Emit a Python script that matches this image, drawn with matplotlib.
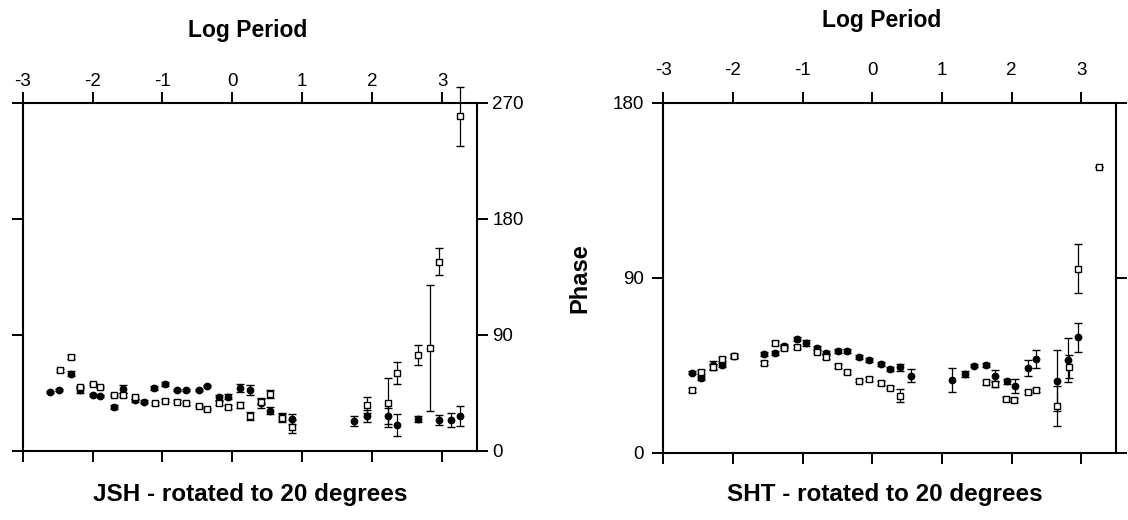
import matplotlib
matplotlib.use("Agg")
import matplotlib.pyplot as plt

plt.rcParams['font.family'] = ['Liberation Sans', 'DejaVu Sans']

# ---------------- JSH (left panel) ----------------
jsh_filled_x = [-2.61, -2.48, -2.31, -2.18, -2.00, -1.89, -1.70, -1.57, -1.40, -1.27,
                -1.12, -0.96, -0.79, -0.67, -0.48, -0.36, -0.19, -0.06, 0.11, 0.25,
                0.41, 0.54, 0.71, 0.85, 1.74, 1.93, 2.22, 2.35, 2.65, 2.95, 3.13, 3.25]
jsh_filled_y = [45.4, 47.2, 59.7, 47.0, 43.3, 42.5, 34.2, 47.7, 39.0, 38.1,
                48.5, 51.6, 47.2, 47.2, 47.2, 50.3, 41.5, 42.0, 48.5, 47.2,
                36.8, 31.1, 26.5, 24.4, 23.0, 26.9, 26.9, 19.9, 24.6, 23.8, 23.8, 26.9]
jsh_filled_err = [1, 1, 2, 2.5, 1, 1, 1.5, 3, 1, 1,
                  1.5, 1.5, 1, 1, 1, 1, 2, 2, 3, 4,
                  4, 2.5, 3, 4, 3.9, 4.7, 6, 8.8, 2, 4, 5.5, 8]

jsh_open_x = [-2.47, -2.31, -2.18, -2.00, -1.89, -1.70, -1.57, -1.40, -1.11, -0.97,
              -0.79, -0.67, -0.48, -0.36, -0.19, -0.06, 0.11, 0.25, 0.41, 0.54,
              0.71, 0.85, 1.93, 2.22, 2.35, 2.65, 2.83, 2.95, 3.26]
jsh_open_y = [62.3, 72.4, 49.3, 51.9, 49.3, 43.3, 43.3, 41.5, 36.8, 38.9,
              38.1, 36.8, 34.8, 32.4, 36.8, 34.2, 35.5, 27.0, 38.0, 44.1,
              25.2, 18.7, 35.5, 37.3, 60.5, 74.3, 79.9, 146.7, 259.4]
jsh_open_err = [1, 1.5, 1, 1, 1, 1, 1.5, 1, 1, 1,
                1, 1, 1, 1, 1.5, 1.5, 2, 3, 2, 3,
                3, 5, 6.5, 19, 8.5, 7.6, 49, 10.7, 23]

# ---------------- SHT (right panel) ----------------
sht_filled_x = [-2.59, -2.46, -2.28, -2.15, -1.99, -1.56, -1.39, -1.26, -1.08, -0.95,
                -0.79, -0.66, -0.49, -0.36, -0.19, -0.05, 0.12, 0.25, 0.40, 0.55,
                1.15, 1.33, 1.46, 1.64, 1.76, 1.93, 2.05, 2.23, 2.35, 2.65, 2.81, 2.95]
sht_filled_y = [41.2, 38.3, 45.2, 45.2, 49.5, 50.8, 51.2, 55.0, 58.6, 56.3,
                53.8, 51.5, 52.4, 52.4, 49.1, 47.7, 45.5, 42.9, 43.8, 39.5,
                37.4, 40.4, 44.8, 45.0, 39.5, 36.6, 34.4, 43.5, 48.1, 37.1, 47.7, 59.4]
sht_filled_err = [1, 1, 2, 1, 1, 1, 1, 1, 1, 1.5,
                  1, 1, 1, 1, 1, 1, 1, 1, 2, 3.3,
                  6, 1.5, 1, 1, 3, 1.5, 3.5, 3.9, 4.7, 15.8, 11.5, 7.5]

sht_open_x = [-2.59, -2.46, -2.28, -2.15, -1.99, -1.56, -1.39, -1.26, -1.08, -0.79,
              -0.66, -0.49, -0.36, -0.19, -0.05, 0.12, 0.25, 0.40, 1.63, 1.76,
              1.92, 2.04, 2.23, 2.35, 2.65, 2.82, 2.96, 3.26]
sht_open_y = [32.3, 41.7, 44.0, 48.1, 49.5, 46.0, 56.3, 53.8, 54.3, 52.0,
              49.0, 44.7, 41.7, 37.1, 38.0, 35.7, 33.5, 29.4, 36.1, 35.4,
              27.5, 27.1, 31.1, 32.3, 24.2, 44.3, 94.6, 147.0]
sht_open_err = [1, 1, 1.5, 1, 1, 1, 1, 1, 1, 1,
                1, 1, 1, 1, 1, 1, 1, 3.4, 1.5, 1.5,
                1, 1, 1, 1, 10.3, 6, 12.5, 0]

x_ticks = [-3, -2, -1, 0, 1, 2, 3]
jsh_y_ticks = [0, 90, 180, 270]
sht_y_ticks = [0, 90, 180]

W, H = 1128, 520
fig = plt.figure(figsize=(W / 100, H / 100), dpi=100)


def px_axes(x0, x1, ytop, ybot):
    return fig.add_axes([x0 / W, 1 - ybot / H, (x1 - x0) / W, (ybot - ytop) / H])


def draw_series(ax, x, y, err, filled):
    if filled:
        kw = dict(fmt='o', ms=4.6, mfc='black', mec='black', mew=1)
    else:
        kw = dict(fmt='s', ms=4.3, mfc='white', mec='black', mew=1.0)
    cont = ax.errorbar(x, y, yerr=err, color='black', ecolor='black',
                       elinewidth=0.9, capsize=3.2, capthick=0.9, zorder=3, **kw)
    for art in cont.get_children():
        art.set_clip_on(False)


def style_axes(ax):
    for s in ax.spines.values():
        s.set_linewidth(1.5)
    ax.set_xlim(-3, 3.5)
    ax.set_xticks(x_ticks)
    ax.set_xticklabels([str(t) for t in x_ticks])
    ax.xaxis.set_ticks_position('both')
    ax.yaxis.set_ticks_position('both')
    ax.tick_params(axis='both', which='major', direction='out', length=8,
                   width=1.4, labelsize=13.5, colors='black')
    ax.minorticks_off()


# Left panel
axL = px_axes(22.7, 477, 102.7, 450.7)
draw_series(axL, jsh_filled_x, jsh_filled_y, jsh_filled_err, True)
draw_series(axL, jsh_open_x, jsh_open_y, jsh_open_err, False)
style_axes(axL)
axL.set_ylim(0, 270)
axL.set_yticks(jsh_y_ticks)
axL.set_yticklabels([str(t) for t in jsh_y_ticks])
axL.tick_params(axis='x', labeltop=True, labelbottom=False, pad=1)
axL.tick_params(axis='y', labelright=True, labelleft=False, pad=3)

# Right panel
axR = px_axes(663.3, 1116, 102.5, 452.7)
draw_series(axR, sht_filled_x, sht_filled_y, sht_filled_err, True)
draw_series(axR, sht_open_x, sht_open_y, sht_open_err, False)
style_axes(axR)
axR.set_ylim(0, 180)
axR.set_yticks(sht_y_ticks)
axR.set_yticklabels([str(t) for t in sht_y_ticks])
axR.tick_params(axis='x', labeltop=True, labelbottom=False, pad=9)
axR.tick_params(axis='y', labelleft=True, labelright=False, pad=6)

# Titles and captions
fig.text(248 / W, 1 - 30 / H, 'Log Period', ha='center', va='center',
         fontsize=16.5, fontweight='bold')
fig.text(882 / W, 1 - 20 / H, 'Log Period', ha='center', va='center',
         fontsize=16.5, fontweight='bold')
fig.text(250 / W, 1 - 494 / H, 'JSH - rotated to 20 degrees', ha='center',
         va='center', fontsize=17.5, fontweight='bold')
fig.text(885 / W, 1 - 494 / H, 'SHT - rotated to 20 degrees', ha='center',
         va='center', fontsize=17.5, fontweight='bold')
fig.text(580 / W, 1 - 278 / H, 'Phase', ha='center', va='center',
         rotation=90, fontsize=17, fontweight='bold')

fig.savefig('out.png', dpi=100)
